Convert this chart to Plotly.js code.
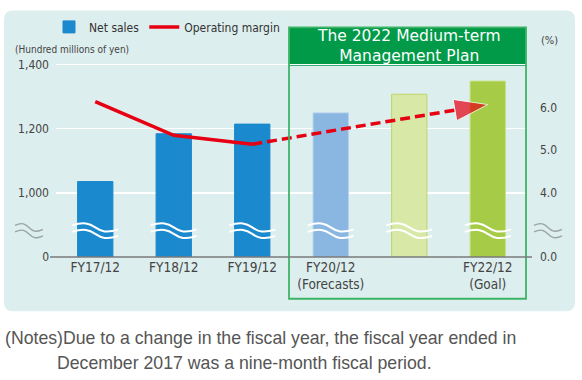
<!DOCTYPE html>
<html><head><meta charset="utf-8">
<script src="https://cdn.plot.ly/plotly-3.0.1.min.js"></script>
<style>html,body{margin:0;padding:0;background:#fff;} #chart{width:582px;height:380px;}</style>
</head><body><div id="chart"></div>
<script>
// ---- data ----
const categories = ["FY17/12","FY18/12","FY19/12","FY20/12","FY21/12","FY22/12"];
const tickLabels = ["FY17/12","FY18/12","FY19/12","FY20/12<br>(Forecasts)","","FY22/12<br>(Goal)"];
const netSales = [1035, 1184, 1214, 1249, 1307, 1348];
const marginActualCats = ["FY17/12","FY18/12","FY19/12"];
const marginActual = [6.14, 5.35, 5.14];
const marginPlanCats = ["FY19/12","FY22/12"];
const marginPlan = [5.14, 6.07];
const leftTickVals = [800, 1000, 1200, 1400];
const leftTickText = ["0","1,000","1,200","1,400"];
const rightTickVals = [2.5, 4, 5, 6];
const rightTickText = ["0.0","4.0","5.0","6.0"];
const barColors = ["#1a89cd","#1a89cd","#1a89cd","#8ab6e2","#d8e8a6","#a6cb46"];
const barLineColors = ["#1a89cd","#1a89cd","#1a89cd","#b5d0ee","#bcd66c","#c6df82"];

// ---- geometry helpers ----
const W = 582, H = 380, L = 56, R = 55, T = 52, B = 123;
const pw = W - L - R, ph = H - T - B;
const fx = px => (px - L) / pw;
const fy = py => (H - B - py) / ph;
const BREAK_VALUE = 882;

function roundRect(x0, y0, x1, y1, r) {
  const P = (x, y) => fx(x).toFixed(5) + ',' + fy(y).toFixed(5);
  return 'M' + P(x0 + r, y0) + ' L' + P(x1 - r, y0) + ' Q' + P(x1, y0) + ' ' + P(x1, y0 + r) +
    ' L' + P(x1, y1 - r) + ' Q' + P(x1, y1) + ' ' + P(x1 - r, y1) +
    ' L' + P(x0 + r, y1) + ' Q' + P(x0, y1) + ' ' + P(x0, y1 - r) +
    ' L' + P(x0, y0 + r) + ' Q' + P(x0, y0) + ' ' + P(x0 + r, y0) + ' Z';
}
function wave(half, amp, gap) {
  let s = '';
  [gap / 2, -gap / 2].forEach(dy => {
    s += `M${-half},${dy + 2} C${-half / 2},${dy + amp + 2} ${-half / 4},${dy + amp} 0,${dy} ` +
         `S${half / 2},${dy - amp - 2} ${half},${dy - 2} `;
  });
  return s;
}

const shapes = [];
// background panel
shapes.push({type:'path', xref:'paper', yref:'paper', path: roundRect(4, 3, 575, 313, 9),
  fillcolor:'#ddeeee', line:{width:0}, layer:'below'});
// plan box header & outline
shapes.push({type:'rect', xref:'paper', yref:'paper', x0: fx(289), x1: fx(526), y0: fy(60), y1: fy(20.5),
  fillcolor:'#009a48', line:{width:0}, layer:'below'});
shapes.push({type:'rect', xref:'paper', yref:'paper', x0: fx(289), x1: fx(526), y0: fy(300), y1: fy(20.5),
  fillcolor:'rgba(0,0,0,0)', line:{color:'#3db465', width:1.8}, layer:'above'});
// break marks on bars
categories.forEach(c => {
  shapes.push({type:'path', xref:'x', yref:'y', xsizemode:'pixel', ysizemode:'pixel',
    xanchor: c, yanchor: BREAK_VALUE, path: wave(23, 4, 6.5), line:{color:'#ffffff', width:2}});
});
// break marks on axes
[fx(29), fx(548)].forEach(xa => {
  shapes.push({type:'path', xref:'paper', yref:'y', xsizemode:'pixel', ysizemode:'pixel',
    xanchor: xa, yanchor: BREAK_VALUE, path: wave(14, 3.5, 6.5), line:{color:'#9aa4a6', width:1.3}});
});
// baseline
shapes.push({type:'line', xref:'paper', yref:'paper', x0: fx(50), x1: fx(532), y0: 0, y1: 0,
  line:{color:'#7a7a7a', width:1.5}});

const FONT = '"DejaVu Sans Condensed", "Liberation Sans Narrow", sans-serif';
const annotations = [
  {xref:'paper', yref:'paper', x: fx(408.5), y: fy(40), text:'The 2022 Medium-term<br>Management Plan', showarrow:false,
   font:{family:'"DejaVu Sans", sans-serif', size:15.5, color:'#ffffff'}, xanchor:'center', yanchor:'middle'},
  {xref:'paper', yref:'paper', x: fx(549), y: fy(34), text:'(%)', showarrow:false,
   font:{family:FONT, size:11, color:'#444'}, xanchor:'center', yanchor:'middle'},
  {xref:'paper', yref:'paper', x: fx(13), y: fy(43), text:'(Hundred millions of yen)', showarrow:false,
   font:{family:FONT, size:10, color:'#444'}, xanchor:'left', yanchor:'middle'},
  {xref:'paper', yref:'paper', x: fx(3), y: fy(340.5), text:'(Notes)Due to a change in the fiscal year, the fiscal year ended in', showarrow:false,
   font:{family:'"Liberation Sans", Arial, sans-serif', size:17.7, color:'#555'}, xanchor:'left', yanchor:'middle'},
  {xref:'paper', yref:'paper', x: fx(55), y: fy(366), text:'December 2017 was a nine-month fiscal period.', showarrow:false,
   font:{family:'"Liberation Sans", Arial, sans-serif', size:17.7, color:'#555'}, xanchor:'left', yanchor:'middle'}
];

const traces = [
  {type:'bar', name:'Net sales', x: categories, y: netSales, width: 0.45,
   marker:{color: barColors, line:{color: barLineColors, width: 1}}, yaxis:'y'},
  {type:'scatter', mode:'lines', name:'Operating margin', x: marginActualCats, y: marginActual,
   line:{color:'#e60012', width:3.5}, yaxis:'y2'},
  {type:'scatter', mode:'lines+markers', name:'Operating margin (plan)', showlegend:false,
   x: marginPlanCats, y: marginPlan, yaxis:'y2',
   line:{color:'#e60012', width:3.5, dash:'10px,5px'},
   marker:{symbol:'arrow', angleref:'previous', size:[0, 35], color:'#e60012'}}
];

const layout = {
  width: W, height: H,
  margin: {l: L, r: R, t: T, b: B, pad: 0},
  paper_bgcolor: '#ffffff', plot_bgcolor: 'rgba(0,0,0,0)',
  font: {family: FONT, color: '#333'},
  showlegend: true,
  legend: {orientation:'h', x: fx(49), xanchor:'left', y: fy(5), yanchor:'top',
           font:{family: FONT, size:12, color:'#333'}, bgcolor:'rgba(0,0,0,0)', itemwidth:30, traceorder:'normal'},
  xaxis: {type:'category', categoryorder:'array', categoryarray: categories, range:[-0.5, 5.5],
          tickvals: categories, ticktext: tickLabels, ticks:'', showgrid:false, zeroline:false, showline:false,
          tickfont:{family: FONT, size:13.5, color:'#444'}, fixedrange:true},
  yaxis: {range:[800, 1420], tickvals: leftTickVals, ticktext: leftTickText, ticks:'',
          showgrid:true, gridcolor:'#ffffff', gridwidth:1.5, zeroline:false, showline:false,
          tickfont:{family: FONT, size:12, color:'#444'}, ticklabelstandoff: 6},
  yaxis2: {overlaying:'y', side:'right', range:[2.5, 7.16], tickvals: rightTickVals, ticktext: rightTickText,
           ticks:'', showgrid:false, zeroline:false, showline:false,
           tickfont:{family: FONT, size:12, color:'#444'}, ticklabelstandoff: 12},
  bargap: 0.55,
  shapes: shapes,
  annotations: annotations
};

Plotly.newPlot('chart', traces, layout, {displayModeBar:false, staticPlot:true});
</script>
</body></html>
